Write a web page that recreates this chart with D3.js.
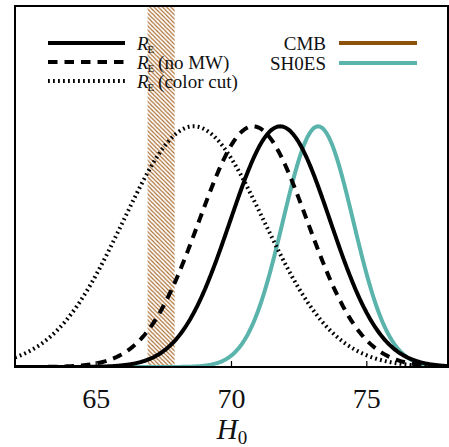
<!DOCTYPE html>
<html>
<head>
<meta charset="utf-8">
<script src="https://cdn.jsdelivr.net/npm/d3@7"></script>
<style>
body { margin: 0; background: #fff; }
text { font-family: "Liberation Serif", "DejaVu Serif", serif; }
</style>
</head>
<body>
<div id="chartDiv"></div>
<script>
// values
var xTicks = [65, 70, 75];
var curveNames = ["solid", "nomw", "colorcut", "shoes"];
var curveMeans = [71.8, 70.8, 68.6, 73.2];
var curveSigmas = [1.85, 2.0, 2.6, 1.3];
var cmbBand = [66.9, 67.9];

var width = 449, height = 447;
var pLeft = 15, pRight = 448, pTop = 6, pBottom = 367;

var svg = d3.select("#chartDiv").append("svg")
	.attr("width", width).attr("height", height);

var x = d3.scaleLinear().domain([62, 78]).range([pLeft, pRight]);
var y = d3.scaleLinear().domain([0, 1.5]).range([pBottom, pTop]);

var defs = svg.append("defs");
var hs = 4.2;
var pat = defs.append("pattern").attr("id", "hatch")
	.attr("patternUnits", "userSpaceOnUse")
	.attr("width", hs).attr("height", hs);
pat.append("path")
	.attr("d", "M-1,-1 L" + (hs + 1) + "," + (hs + 1) +
		" M-1," + (hs - 1) + " L1," + (hs + 1) +
		" M" + (hs - 1) + ",-1 L" + (hs + 1) + ",1")
	.attr("stroke", "#a9692a").attr("stroke-width", 1.1);

defs.append("clipPath").attr("id", "clip")
	.append("rect").attr("x", pLeft).attr("y", pTop)
	.attr("width", pRight - pLeft).attr("height", pBottom - pTop);

// CMB band
svg.append("rect")
	.attr("x", x(cmbBand[0])).attr("y", pTop)
	.attr("width", x(cmbBand[1]) - x(cmbBand[0]))
	.attr("height", pBottom - pTop)
	.attr("fill", "url(#hatch)");

var styles = {
	solid: { color: "#000", width: 4, dash: null },
	nomw: { color: "#000", width: 4, dash: "9.5,7" },
	colorcut: { color: "#000", width: 4, dash: "1.8,3.2" },
	shoes: { color: "#5ab4ac", width: 4, dash: null }
};

var grid = d3.range(62, 78.001, 0.04);
var line = d3.line()
	.x(function(d) { return x(d[0]); })
	.y(function(d) { return y(d[1]); });

var g = svg.append("g").attr("clip-path", "url(#clip)");
var order = [3, 2, 1, 0];
order.forEach(function(i) {
	var pts = grid.map(function(v) {
		var z = (v - curveMeans[i]) / curveSigmas[i];
		return [v, Math.exp(-0.5 * z * z)];
	});
	var st = styles[curveNames[i]];
	g.append("path").datum(pts)
		.attr("d", line)
		.attr("fill", "none")
		.attr("stroke", st.color)
		.attr("stroke-width", st.width)
		.attr("stroke-dasharray", st.dash);
});

// frame
svg.append("rect")
	.attr("x", pLeft).attr("y", pTop)
	.attr("width", pRight - pLeft).attr("height", pBottom - pTop)
	.attr("fill", "none").attr("stroke", "#000").attr("stroke-width", 2);

// ticks + labels
xTicks.forEach(function(t) {
	svg.append("line")
		.attr("x1", x(t)).attr("x2", x(t))
		.attr("y1", pBottom).attr("y2", pBottom - 6)
		.attr("stroke", "#000").attr("stroke-width", 1.2);
	svg.append("text")
		.attr("x", x(t)).attr("y", 408)
		.attr("text-anchor", "middle")
		.attr("font-size", 28)
		.attr("fill", "#111")
		.text(t);
});

var xl = svg.append("text").attr("x", 232).attr("y", 439)
	.attr("text-anchor", "middle").attr("font-size", 29).attr("fill", "#111");
xl.append("tspan").attr("font-style", "italic").text("H");
xl.append("tspan").attr("font-size", 19).attr("dy", 5).text("0");

// legend, left
var legLeft = [
	{ key: "solid", y: 43, extra: "" },
	{ key: "nomw", y: 62, extra: " (no MW)" },
	{ key: "colorcut", y: 81, extra: " (color cut)" }
];
legLeft.forEach(function(d) {
	var st = styles[d.key];
	svg.append("line")
		.attr("x1", 48).attr("x2", 125)
		.attr("y1", d.y).attr("y2", d.y)
		.attr("stroke", st.color).attr("stroke-width", st.width)
		.attr("stroke-dasharray", st.dash);
	var t = svg.append("text").attr("x", 137).attr("y", d.y + 6.5)
		.attr("font-size", 19).attr("fill", "#111");
	t.append("tspan").attr("font-style", "italic").text("R");
	t.append("tspan").attr("font-size", 11).attr("dy", 3).attr("dx", -1).text("E");
	if (d.extra) t.append("tspan").attr("dy", -3).attr("dx", -1).text(d.extra);
});

// legend, right
var legRight = [
	{ label: "CMB", color: "#8c510a", y: 43 },
	{ label: "SH0ES", color: "#5ab4ac", y: 63 }
];
legRight.forEach(function(d) {
	svg.append("line")
		.attr("x1", 339).attr("x2", 417)
		.attr("y1", d.y).attr("y2", d.y)
		.attr("stroke", d.color).attr("stroke-width", 4);
	svg.append("text").attr("x", 326).attr("y", d.y + 6.5)
		.attr("text-anchor", "end")
		.attr("font-size", 19).attr("fill", "#111")
		.text(d.label);
});
</script>
</body>
</html>
